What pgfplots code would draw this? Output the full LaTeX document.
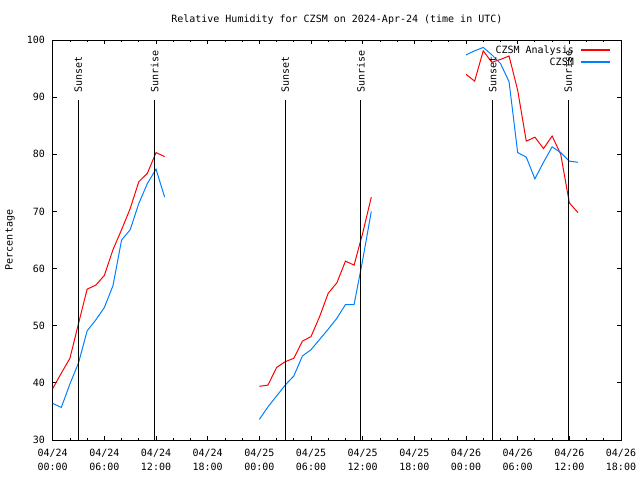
\documentclass[border=0pt]{standalone}
\usepackage{pgfplots}
\pgfplotsset{compat=1.18}
\usepackage{fontspec}
\setmainfont{DejaVu Sans Mono}
\definecolor{cblue}{RGB}{0,128,255}
\begin{document}
\begin{tikzpicture}[font=\fontsize{10bp}{14bp}\selectfont]
\path[use as bounding box] (0,0) rectangle (640bp,480bp);
\begin{axis}[
  at={(52.7bp,40bp)}, anchor=south west,
  scale only axis, width=568.3bp, height=400bp,
  xmin=0, xmax=66, ymin=30, ymax=100,
  xtick={0,6,...,66},
  xticklabels={{04/24\\00:00},{04/24\\06:00},{04/24\\12:00},{04/24\\18:00},{04/25\\00:00},{04/25\\06:00},{04/25\\12:00},{04/25\\18:00},{04/26\\00:00},{04/26\\06:00},{04/26\\12:00},{04/26\\18:00}},
  minor x tick num=2,
  ytick={30,40,...,100},
  tick align=inside,
  major tick length=4bp, minor tick length=2bp,
  tick style={black, line width=0.8bp},
  axis line style={line width=1bp},
  xticklabel style={align=center, inner sep=0bp, yshift=-9bp},
  yticklabel style={inner sep=0bp, xshift=-7.5bp},
  /pgf/number format/assume math mode=true,
  title={Relative Humidity for CZSM on 2024-Apr-24 (time in UTC)},
  title style={at={(axis description cs:0.5,1)}, anchor=center, yshift=14bp},
  ylabel={Percentage},
  ylabel style={at={(axis description cs:-0.075,0.5)}, anchor=center},
  unbounded coords=jump,
]
\addplot[red, line width=1bp] coordinates {
(0,39.0) (1,41.7) (2,44.3) (3,50.4) (4,56.4) (5,57.1) (6,58.8) (7,63.3) (8,66.8) (9,70.5) (10,75.2) (11,76.7) (12,80.3) (13,79.6)
(18,nan)
(24,39.4) (25,39.6) (26,42.7) (27,43.7) (28,44.3) (29,47.3) (30,48.1) (31,51.6) (32,55.7) (33,57.5) (34,61.3) (35,60.6) (36,66.2) (37,72.5)
(42,nan)
(48,94.0) (49,92.8) (50,98.1) (51,96.1) (52,96.6) (53,97.2) (54,91.2) (55,82.3) (56,83.0) (57,81.0) (58,83.2) (59,80.0) (60,71.5) (61,69.8)
};
\addplot[cblue, line width=1bp] coordinates {
(0,36.4) (1,35.7) (2,39.8) (3,43.5) (4,49.1) (5,51.0) (6,53.2) (7,57.0) (8,65.0) (9,66.8) (10,71.4) (11,74.9) (12,77.4) (13,72.5)
(18,nan)
(24,33.6) (25,35.8) (26,37.7) (27,39.6) (28,41.2) (29,44.7) (30,45.8) (31,47.6) (32,49.4) (33,51.3) (34,53.7) (35,53.7) (36,61.5) (37,70.0)
(42,nan)
(48,97.4) (49,98.1) (50,98.7) (51,97.4) (52,95.9) (53,92.7) (54,80.3) (55,79.5) (56,75.7) (57,78.6) (58,81.3) (59,80.3) (60,78.8) (61,78.6)
};
\addplot[black, line width=1bp, forget plot] coordinates {(2.97,30) (2.97,89.5)};
\addplot[black, line width=1bp, forget plot] coordinates {(11.85,30) (11.85,89.5)};
\addplot[black, line width=1bp, forget plot] coordinates {(27.0,30) (27.0,89.5)};
\addplot[black, line width=1bp, forget plot] coordinates {(35.8,30) (35.8,89.5)};
\addplot[black, line width=1bp, forget plot] coordinates {(51.1,30) (51.1,89.5)};
\addplot[black, line width=1bp, forget plot] coordinates {(59.85,30) (59.85,89.5)};
\node[rotate=90, anchor=west, inner sep=0bp] at (axis cs:2.97,90.7) {Sunset};
\node[rotate=90, anchor=west, inner sep=0bp] at (axis cs:11.85,90.7) {Sunrise};
\node[rotate=90, anchor=west, inner sep=0bp] at (axis cs:27.0,90.7) {Sunset};
\node[rotate=90, anchor=west, inner sep=0bp] at (axis cs:35.8,90.7) {Sunrise};
\node[rotate=90, anchor=west, inner sep=0bp] at (axis cs:51.1,90.7) {Sunset};
\node[rotate=90, anchor=west, inner sep=0bp] at (axis cs:59.85,90.7) {Sunrise};
% legend
\node[anchor=base east, inner sep=0bp] at (rel axis cs:0.9173,0.9663) {CZSM Analysis};
\node[anchor=base east, inner sep=0bp] at (rel axis cs:0.9173,0.9363) {CZSM};
\addplot[red, line width=1.2bp, forget plot] coordinates {(61.35,98.25) (64.72,98.25)};
\addplot[cblue, line width=1.2bp, forget plot] coordinates {(61.35,96.15) (64.72,96.15)};
\end{axis}
\end{tikzpicture}
\end{document}
